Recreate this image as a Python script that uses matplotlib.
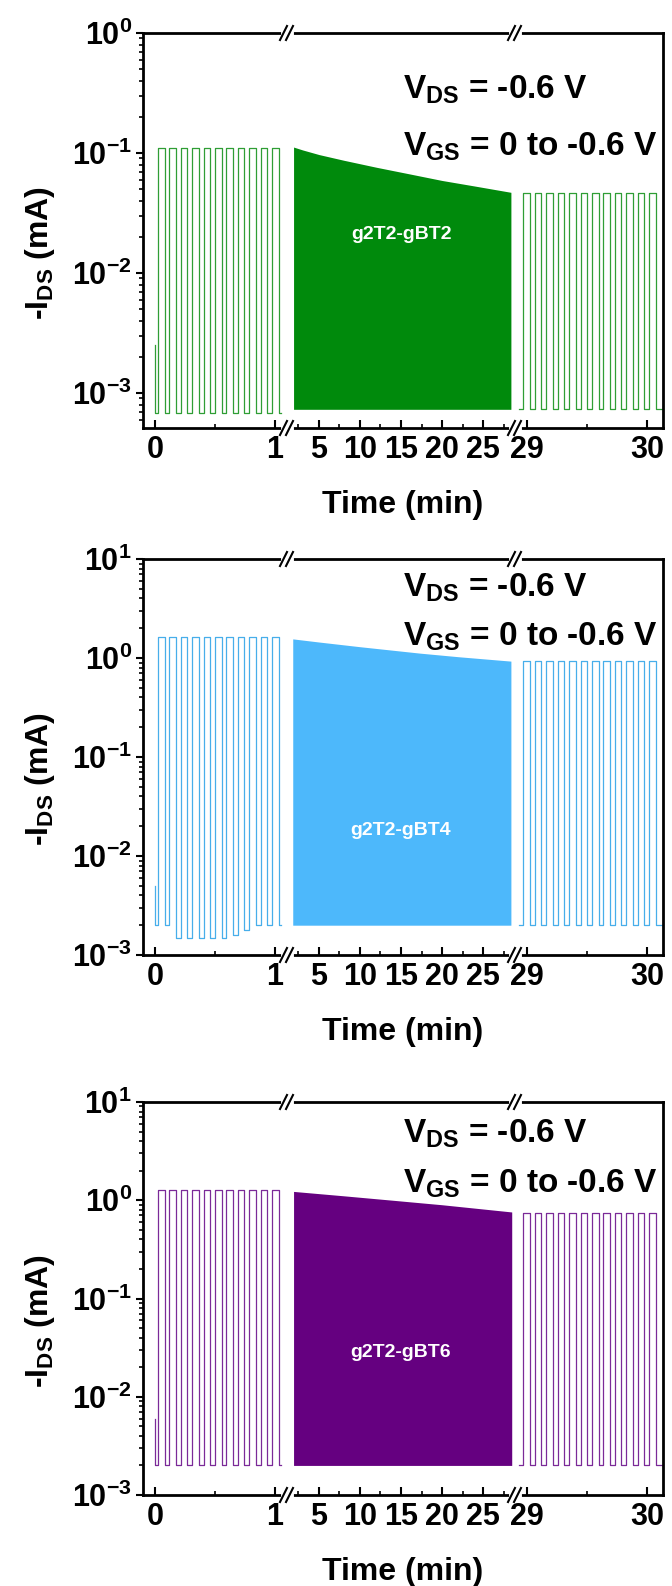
import math
import matplotlib
matplotlib.use('Agg')
import matplotlib.pyplot as plt
from matplotlib.lines import Line2D
from matplotlib.ticker import FixedLocator, LogLocator, FuncFormatter, NullFormatter

plt.rcParams['font.family'] = ['Liberation Sans', 'DejaVu Sans']
plt.rcParams['font.weight'] = 'bold'
plt.rcParams['mathtext.fontset'] = 'custom'
plt.rcParams['mathtext.rm'] = 'Liberation Sans:bold'
plt.rcParams['mathtext.it'] = 'Liberation Sans:bold'
plt.rcParams['mathtext.bf'] = 'Liberation Sans:bold'
plt.rcParams['mathtext.default'] = 'bf'

# --- data ---
samples = ['g2T2-gBT2', 'g2T2-gBT4', 'g2T2-gBT6']
line_colors = ['#2f9e35', '#47aeea', '#7b2a98']
fill_colors = ['#008a0c', '#4db8fb', '#650080']
ylims = [(5.1e-4, 1), (1e-3, 10), (1e-3, 10)]

# first minute: pulse onsets (min)
start_onsets = [0.025, 0.12, 0.215, 0.31, 0.405, 0.50, 0.595, 0.69, 0.785, 0.88, 0.975]
start_first = [2.5e-3, 5e-3, 6e-3]
start_high = [0.11, 1.63, 1.28]
start_lows = [
    [6.8e-4, 6.8e-4, 6.8e-4, 6.8e-4, 6.8e-4, 6.8e-4, 6.8e-4, 6.8e-4, 6.8e-4, 6.8e-4, 6.8e-4],
    [2.0e-3, 1.5e-3, 1.5e-3, 1.5e-3, 1.5e-3, 1.5e-3, 1.6e-3, 1.8e-3, 2.0e-3, 2.0e-3, 2.0e-3],
    [2.0e-3, 2.0e-3, 2.0e-3, 2.0e-3, 2.0e-3, 2.0e-3, 2.0e-3, 2.0e-3, 2.0e-3, 2.0e-3, 2.0e-3],
]
pulse_width = 0.055

# middle part: envelope of the dense pulsing
mid_t = [
    [1.9, 3, 5, 8, 12, 16, 20, 24, 28.4],
    [1.8, 5, 10, 17.3, 22, 28.4],
    [1.9, 8, 14, 20, 28.5],
]
mid_top = [
    [0.112, 0.106, 0.097, 0.087, 0.076, 0.067, 0.059, 0.053, 0.047],
    [1.56, 1.45, 1.30, 1.12, 1.03, 0.93],
    [1.23, 1.11, 1.00, 0.90, 0.76],
]
mid_low = [7.3e-4, 2.0e-3, 2.0e-3]

# last minute
end_onsets = [28.97, 29.065, 29.16, 29.255, 29.35, 29.445, 29.54, 29.635, 29.73, 29.825, 29.92, 30.015]
end_high = [0.046, 0.93, 0.74]
end_low = [7.3e-4, 2.0e-3, 2.0e-3]

label_y = [0.021, 0.018, 0.028]

# --- layout (pixels) ---
W, H = 672, 1586
panel_top = [33, 559, 1102]
panel_bot = [428, 955, 1495]
seg_px = [(143, 287), (287, 515), (515, 663)]
seg_lims = [(-0.1, 1.1), (1.1, 28.9), (28.9, 30.13)]
seg_ticks = [[0, 1], [5, 10, 15, 20, 25], [29, 30]]
seg_minor = [[0.5], [2.5, 7.5, 12.5, 17.5, 22.5, 27.5], [29.5]]
vtext_off = [(57, 114), (29, 78), (32, 82)]


def pulse_trace(onsets, width, high, lows, t0, v0, t_end):
    t = [t0, t0]
    v = [v0, lows[0]]
    prev = lows[0]
    for on, lo in zip(onsets, lows):
        t += [on, on, on + width, on + width]
        v += [prev, high, high, lo]
        prev = lo
    t.append(t_end)
    v.append(prev)
    return t, v


def fx(px):
    return px / W


def fy(py):
    return 1 - py / H


fig = plt.figure(figsize=(W / 100, H / 100), dpi=100)

for p in range(3):
    axes = []
    for s in range(3):
        x0, x1 = seg_px[s]
        ax = fig.add_axes([fx(x0), fy(panel_bot[p]), (x1 - x0) / W, (panel_bot[p] - panel_top[p]) / H])
        ax.set_yscale('log')
        ax.set_ylim(*ylims[p])
        ax.set_xlim(*seg_lims[s])
        ax.set_facecolor('none')
        for sp in ax.spines.values():
            sp.set_linewidth(2)
        ax.spines['left'].set_visible(s == 0)
        ax.spines['right'].set_visible(s == 2)
        ax.xaxis.set_major_locator(FixedLocator(seg_ticks[s]))
        ax.xaxis.set_minor_locator(FixedLocator(seg_minor[s]))
        ax.set_xticklabels([str(v) for v in seg_ticks[s]])
        ax.tick_params(axis='x', which='major', direction='in', length=6, width=1.5,
                       labelsize=22, pad=5, top=False)
        ax.tick_params(axis='x', which='minor', direction='in', length=3, width=1.2, top=False)
        if s == 0:
            ax.yaxis.set_major_locator(LogLocator(base=10, numticks=10))
            ax.yaxis.set_minor_locator(LogLocator(base=10, subs=range(2, 10), numticks=20))
            ax.yaxis.set_major_formatter(FuncFormatter(lambda v, pos: r'$\mathbf{10^{%d}}$' % round(math.log10(v))))
            ax.yaxis.set_minor_formatter(NullFormatter())
            ax.tick_params(axis='y', which='major', direction='out', length=5, width=1.5,
                           labelsize=22, pad=3, right=False)
            ax.tick_params(axis='y', which='minor', direction='out', length=3, width=1.2, right=False)
        else:
            ax.tick_params(axis='y', which='both', left=False, right=False, labelleft=False)
        axes.append(ax)

    a1, a2, a3 = axes
    t, v = pulse_trace(start_onsets, pulse_width, start_high[p], start_lows[p], 0.0, start_first[p], 1.05)
    a1.plot(t, v, color=line_colors[p], lw=0.9)

    a2.fill_between(mid_t[p], mid_low[p], mid_top[p], color=fill_colors[p], lw=0)
    a2.text(15, label_y[p], samples[p], color='white', fontsize=14, ha='center', va='center')

    lows3 = [end_low[p]] * len(end_onsets)
    t, v = pulse_trace(end_onsets, pulse_width, end_high[p], lows3, 28.93, end_low[p], 30.12)
    a3.plot(t, v, color=line_colors[p], lw=0.9)

    # broken-axis marks
    for xb in (seg_px[0][1], seg_px[1][1]):
        for yb in (panel_top[p], panel_bot[p]):
            fig.add_artist(Line2D([fx(xb - 4), fx(xb + 4)], [fy(yb), fy(yb)], color='white', lw=3.5))
            for dx in (-3, 3):
                fig.add_artist(Line2D([fx(xb + dx - 4), fx(xb + dx + 3)], [fy(yb + 7), fy(yb - 7)],
                                      color='black', lw=1.5))

    # annotations
    fig.text(fx(403), fy(panel_top[p] + vtext_off[p][0]), r'V$_{\mathbf{DS}}$ = -0.6 V',
             fontsize=24, ha='left', va='center')
    fig.text(fx(403), fy(panel_top[p] + vtext_off[p][1]), r'V$_{\mathbf{GS}}$ = 0 to -0.6 V',
             fontsize=24, ha='left', va='center')
    fig.text(fx(403), fy(panel_bot[p] + 77), 'Time (min)', fontsize=23, ha='center', va='center')
    fig.text(fx(40), fy((panel_top[p] + panel_bot[p]) / 2 + 22), r'-I$_{\mathbf{DS}}$ (mA)',
             fontsize=23, ha='center', va='center', rotation=90)

fig.savefig('out.png', dpi=100)
